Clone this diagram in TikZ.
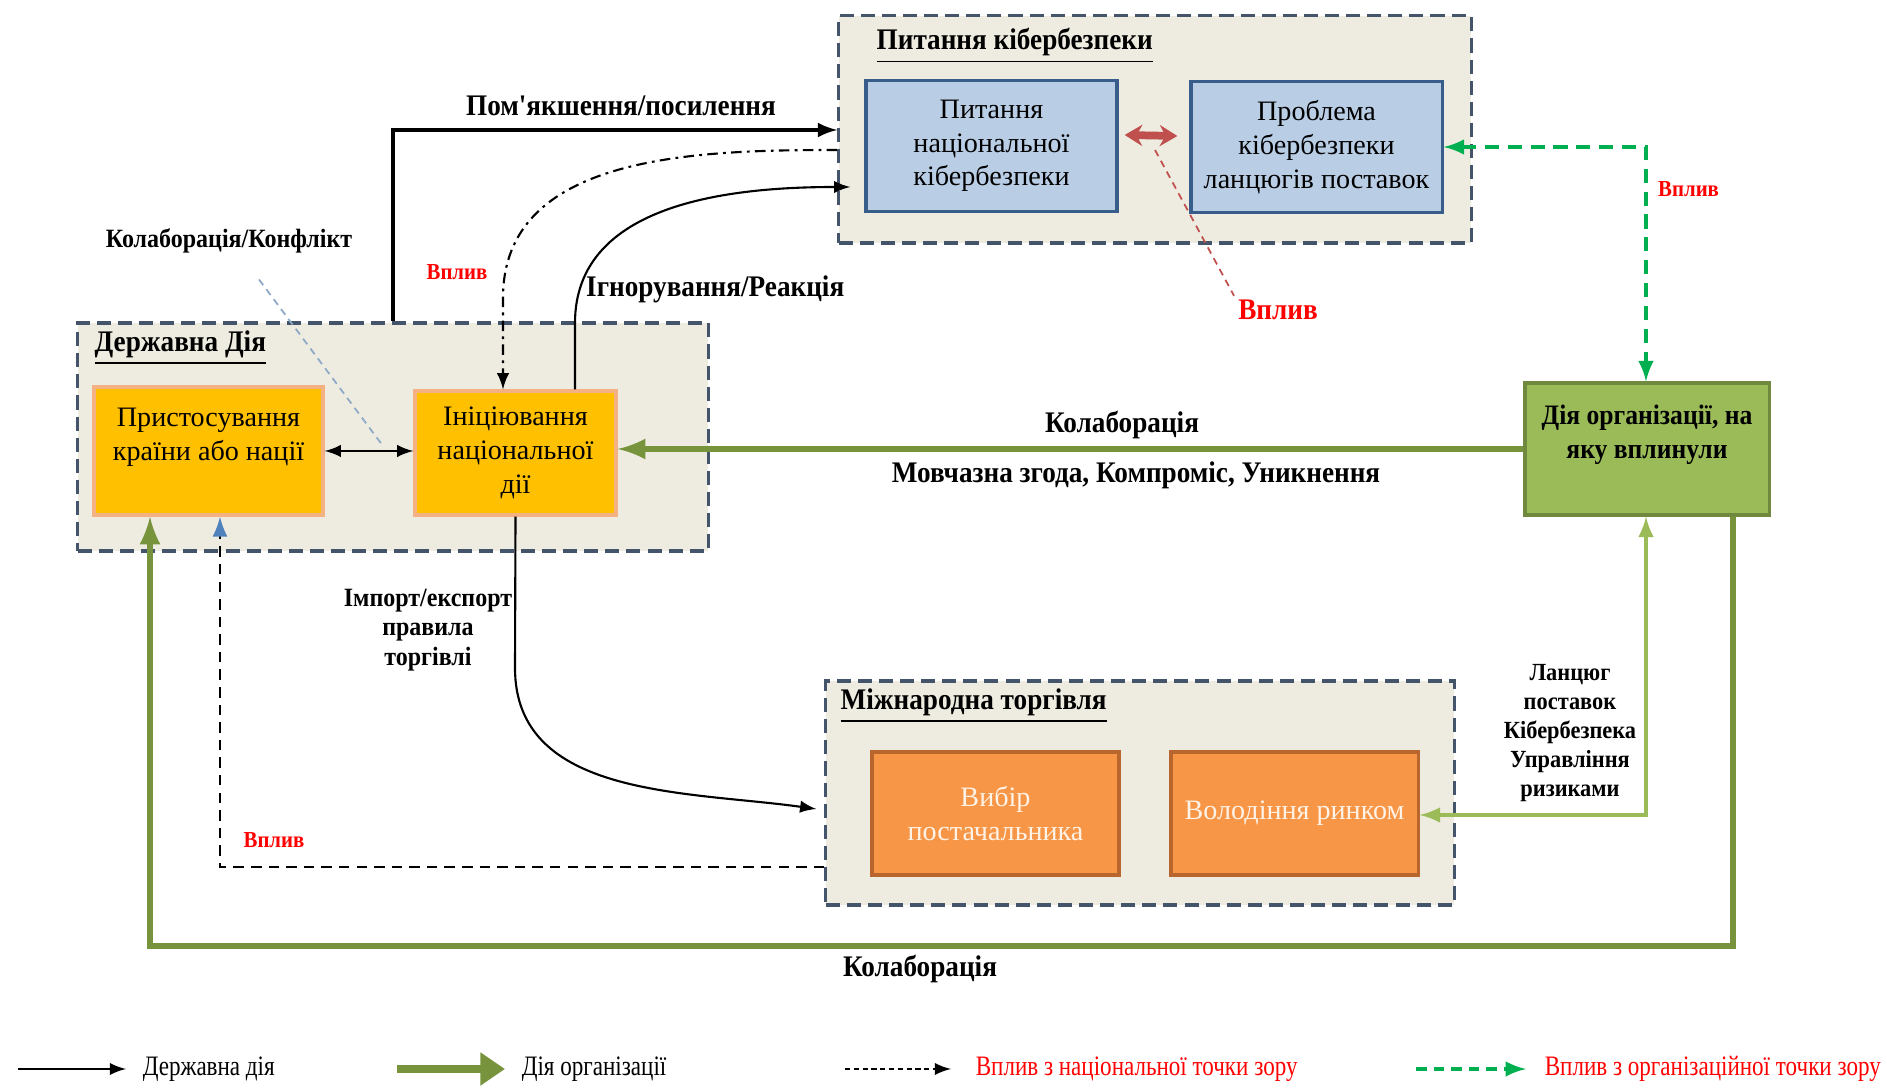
\documentclass[tikz,border=0pt]{standalone}
\usepackage{fontspec}
\setmainfont{Liberation Serif}
\newfontfamily\lblfont[FakeStretch=0.91]{Liberation Serif}
\newfontfamily\legfont[FakeStretch=0.82]{Liberation Serif}
\usetikzlibrary{arrows,arrows.meta,calc,positioning}

\definecolor{grpfill}{HTML}{EEECE1}
\definecolor{grpline}{HTML}{44546A}
\definecolor{bluefill}{HTML}{B9CDE5}
\definecolor{blueline}{HTML}{385D8A}
\definecolor{yelfill}{HTML}{FFC000}
\definecolor{yelline}{HTML}{F4B183}
\definecolor{orgfill}{HTML}{F79646}
\definecolor{orgedge}{HTML}{B8652E}
\definecolor{orgtext}{HTML}{FFF2E6}
\definecolor{grnfill}{HTML}{9BBB59}
\definecolor{grnedge}{HTML}{71893F}
\definecolor{grnline}{HTML}{77933C}
\definecolor{grnthin}{HTML}{9BBB59}
\definecolor{grndash}{HTML}{00B050}
\definecolor{redarr}{HTML}{C0504D}
\definecolor{tipblue}{HTML}{4F81BD}
\definecolor{ccline}{HTML}{8EA9C8}

\tikzset{
	grp/.style={draw=grpline,fill=grpfill,line width=0.9pt,dash pattern=on 4pt off 2pt,inner sep=0pt},
	grpttl/.style={anchor=west,inner sep=0pt,font=\lblfont\bfseries\fontsize{8.5}{10}\selectfont},
	box/.style={line width=0.9pt,inner sep=1pt,align=center,font=\fontsize{8}{9.6}\selectfont},
	bluebox/.style={box,draw=blueline,fill=bluefill,minimum width=2.51cm,minimum height=1.31cm},
	yelbox/.style={box,draw=yelline,fill=yelfill},
	orgbox/.style={box,draw=orgedge,fill=orgfill,text=orgtext,minimum width=2.47cm,minimum height=1.23cm},
	grnbox/.style={box,draw=grnedge,fill=grnfill,font=\lblfont\bfseries\fontsize{8}{9.6}\selectfont,
		minimum width=2.44cm,minimum height=1.32cm},
	lbl/.style={inner sep=1pt,align=center,font=\lblfont\bfseries\fontsize{8.5}{10}\selectfont},
	smlbl/.style={inner sep=1pt,align=center,font=\lblfont\bfseries\fontsize{7}{8.2}\selectfont},
	redlbl/.style={inner sep=1pt,text=red,font=\lblfont\bfseries\fontsize{6.5}{8}\selectfont},
	leg/.style={anchor=west,inner sep=0pt,font=\legfont\fontsize{8}{9}\selectfont},
	stateln/.style={->,black,line width=0.9pt},
	orgln/.style={->,grnline,line width=1.7pt},
	orgthin/.style={<->,grnthin,line width=1pt},
	orgdash/.style={<->,grndash,line width=1pt,dash pattern=on 4pt off 2.5pt},
	natdash/.style={black,line width=0.6pt,dash pattern=on 3pt off 2pt},
}

\begin{document}
\begin{tikzpicture}[>=latex,x=0.01cm,y=0.01cm]

\useasboundingbox[fill=white] (0,0) rectangle (1887,1088);

% groups
\node[grp,minimum width=6.32cm,minimum height=2.27cm] (cybgrp) at (1155,958.5) {};
\node[grpttl] at (876,1042) {\underline{Питання кібербезпеки}};
\node[grp,minimum width=6.30cm,minimum height=2.28cm] (stgrp) at (393,651) {};
\node[grpttl] at (94,740) {\underline{Державна Дія}};
\node[grp,minimum width=6.28cm,minimum height=2.24cm] (trdgrp) at (1140,295) {};
\node[grpttl] at (840,382) {\underline{Міжнародна торгівля}};

% boxes
\node[bluebox] (natsec) at (991.5,942) {Питання\\національної\\кібербезпеки};
\node[bluebox] (supply) at (1316.5,941) {Проблема\\кібербезпеки\\ланцюгів поставок};
\node[yelbox,minimum width=2.29cm,minimum height=1.28cm] (adapt) at (208.5,637)
	{Пристосування\\країни або нації\\\mbox{}};
\node[yelbox,minimum width=2.01cm,minimum height=1.24cm] (ini) at (515.5,635)
	{Ініціювання\\національної\\дії};
\node[grnbox] (org) at (1647,639) {Дія організації, на\\яку вплинули\\\mbox{}};
\node[orgbox] (supplier) at (995.5,274.5) {Вибір\\постачальника};
\node[orgbox] (market) at (1294.5,274.5) {Володіння ринком};

% state action
\coordinate (mitig) at (393,958);
\draw[stateln] (stgrp.north -| mitig) |- (cybgrp.west |- mitig);
\node[lbl] at (621,982) {Пом'якшення/посилення};

\draw[stateln,line width=0.6pt] (ini.north -| 575,0) -- (575,765)
	to[out=90,in=180] ($(cybgrp.west |- 0,901)+(13,0)$);
\node[lbl,anchor=west] at (582,799) {Ігнорування/Реакція};

\draw[natdash,dash pattern=on 3pt off 1.5pt on 0.8pt off 1.5pt,->]
	(cybgrp.west |- 0,938) to[out=180,in=90] (503,790) -- (ini.north -| 503,0);
\node[redlbl] at (457,816) {Вплив};

\draw[stateln,line width=0.6pt,<->] (adapt.east) -- (ini.west |- adapt.east);
\node[lbl,font=\lblfont\bfseries\fontsize{7.5}{9}\selectfont] (cclbl) at (229,847) {Колаборація/Конфлікт};
\coordinate (ccend) at (383,642);
\draw[ccline,line width=0.5pt,dash pattern=on 2pt off 1.5pt] ($(cclbl.south)+(30,-22)$) -- (ccend);

\draw[stateln,line width=0.6pt] (ini.south) -- (515,420)
	to[out=-90,in=172] ($(trdgrp.west |- 0,279)+(-8,0)$);
\node[smlbl,font=\lblfont\bfseries\fontsize{7.5}{8.3}\selectfont] at (428,458) {Імпорт/експорт\\правила\\торгівлі};

\coordinate (nld) at (220,221);
\draw[natdash,-{Latex[color=tipblue]}] (trdgrp.west |- nld) -| (adapt.south -| nld);
\node[redlbl] at (274,248) {Вплив};

% cyber issues
\draw[redarr,line width=2.2pt,{Stealth[length=5pt,width=6pt]}-{Stealth[length=5pt,width=6pt]}]
	($(natsec.east)+(6,11)$) -- ($(supply.west)+(-12,11)$);
\node[redlbl,font=\lblfont\bfseries\fontsize{8.5}{10}\selectfont] (cyblbl) at (1278,778) {Вплив};
\draw[redarr,line width=0.5pt,dash pattern=on 2pt off 1.5pt] (1155,938) -- (cyblbl.north west);

% organisation action
\draw[orgln] (org.west) -- (ini.east |- org.west);
\node[lbl] at (1122,663) {Колаборація};
\node[lbl] at (1136,613) {Мовчазна згода, Компроміс, Уникнення};

\coordinate (inflc) at (1646,941);
\draw[orgdash] (supply.east) -- (inflc) -- (org.north -| inflc);
\node[redlbl,anchor=west] at (1654,899) {Вплив};

\coordinate (scrc) at (1646,273);
\draw[orgthin] (market.east |- scrc) -- (scrc) -- (org.south -| scrc);
\node[smlbl] at (1570,355) {Ланцюг\\поставок\\Кібербезпека\\Управління\\ризиками};

\coordinate (botr) at (1733,142);
\coordinate (botl) at (150,142);
\draw[orgln] (org.south -| botr) -- (botr) -- (botl) -- (adapt.south -| botl);
\node[lbl] at (920,119) {Колаборація};

% legend
\coordinate (lg1) at (18,19);
\node[leg,right=1.24cm of lg1] {Державна дія};
\draw[black,line width=0.6pt,->] (lg1) -- ++(108,0);
\coordinate (lg2) at (397,19);
\node[leg,right=1.24cm of lg2] {Дія організації};
\draw[grnline,line width=2.2pt,-{Triangle[length=7pt,width=9pt]}] (lg2) -- ++(108,0);
\coordinate (lg3) at (845,19);
\node[leg,text=red,right=1.30cm of lg3] {Вплив з національної точки зору};
\draw[black,line width=0.6pt,dash pattern=on 1.5pt off 1pt,->] (lg3) -- ++(106,0);
\coordinate (lg4) at (1416,19);
\node[leg,text=red,right=1.28cm of lg4] {Вплив з організаційної точки зору};
\draw[grndash,line width=1pt,dash pattern=on 3pt off 2pt,->] (lg4) -- ++(110,0);

\end{tikzpicture}
\end{document}
